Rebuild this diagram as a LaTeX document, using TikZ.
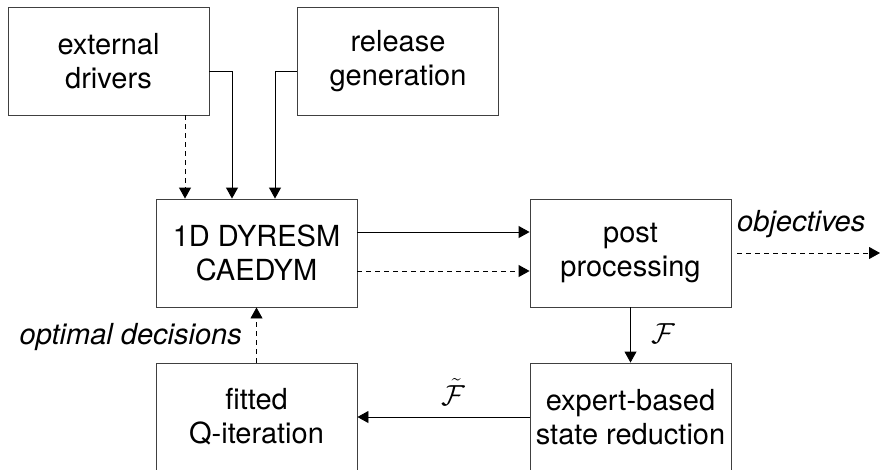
\documentclass[tikz,border=0pt]{standalone}
\usepackage{fix-cm}
\usepackage{fontspec}
\setmainfont{TeX Gyre Heros}
\usetikzlibrary{arrows.meta}
\begin{document}
\begin{tikzpicture}[x=1pt,y=-1pt,
  blk/.style={draw=black!75, line width=0.9pt, rectangle, minimum width=201pt, minimum height=108pt,
    inner sep=0pt, align=center, font=\fontsize{29}{34}\selectfont},
  lbl/.style={font=\fontsize{29}{34}\selectfont\itshape, inner sep=0pt},
  mlbl/.style={font=\fontsize{29}{34}\selectfont, inner sep=0pt},
  con/.style={line width=0.9pt, -{Triangle[length=11pt,width=12pt]}},
  dsh/.style={con, dash pattern=on 5pt off 4pt}
]
\useasboundingbox (0,0) rectangle (881,469);
\clip (0,0) rectangle (881,469);
\node[blk] (ext) at (108.5,61) {external\\drivers};
\node[blk] (rel) at (398,61) {release\\generation};
\node[blk] (dyn) at (256.5,253) {1D DYRESM\\CAEDYM};
\node[blk] (post) at (630.5,253) {post\\processing};
\node[blk] (fqi) at (256.5,417) {fitted\\Q-iteration};
\node[blk] (exp) at (630.5,417) {expert-based\\state reduction};
\coordinate (xa) at (185,0);
\coordinate (xb) at (232,0);
\coordinate (xc) at (275,0);
\coordinate (objend) at (880,253);
\draw[dsh] (ext.south -| xa) -- (dyn.north -| xa);
\draw[con] ([yshift=-10pt]ext.east) -| (dyn.north -| xb);
\draw[con] ([yshift=-10pt]rel.west) -| (dyn.north -| xc);
\draw[con] ([yshift=21pt]dyn.east) -- ([yshift=21pt]post.west);
\draw[dsh] ([yshift=-18pt]dyn.east) -- ([yshift=-18pt]post.west);
\draw[dsh] ([xshift=6pt]post.east) -- (objend);
\node[lbl, anchor=west] (obj) at (737,224) {objectives};
\draw[con] (post.south) -- (exp.north);
\node[mlbl] (F) at (663,334) {$\mathcal{F}$};
\draw[con] (exp.west) -- (fqi.east);
\node[mlbl] (Ft) at (453,392) {$\tilde{\mathcal{F}}$};
\draw[dsh] (fqi.north) -- (dyn.south);
\node[lbl, anchor=east] (od) at (242,337) {optimal decisions};
\end{tikzpicture}
\end{document}
